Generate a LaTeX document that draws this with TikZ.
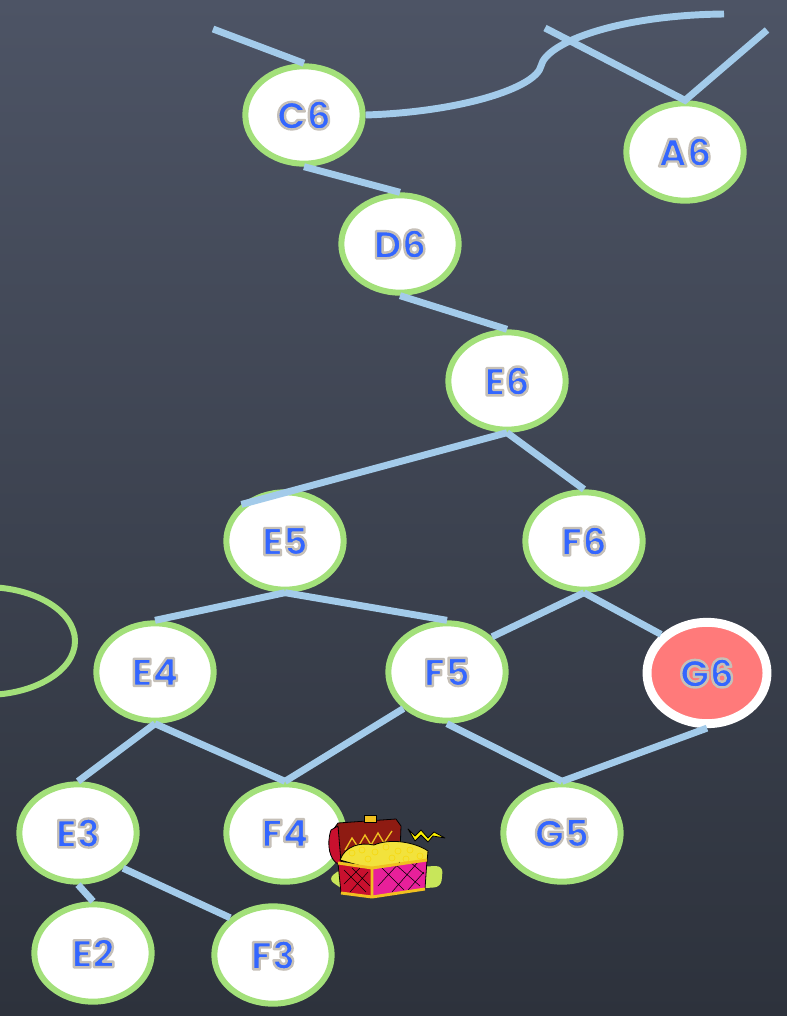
\documentclass[tikz,border=0pt]{standalone}
\usepackage{fontspec}
\setmainfont{Poppins}
\usetikzlibrary{shapes.geometric}
\definecolor{slateT}{HTML}{4D5465}
\definecolor{slateB}{HTML}{2D323C}
\definecolor{ring}{HTML}{A3E07A}
\definecolor{wire}{HTML}{A3CBEA}
\definecolor{ink}{HTML}{3366FF}
\definecolor{goal}{HTML}{FF7A7A}
\definecolor{lidc}{HTML}{8E1B12}
\definecolor{boxl}{HTML}{C8102E}
\definecolor{boxr}{HTML}{E8209A}
\definecolor{gold}{HTML}{F2E23C}
\definecolor{trim}{HTML}{F0C020}
\definecolor{grass}{HTML}{C8E65A}
% blue letters with a grey rim (stroked and filled)
\newcommand{\lbl}[1]{\textcolor{ink}{\special{pdf:literal direct 2 Tr 1.8 w 1 j 0.776 0.753 0.722 RG}#1\special{pdf:literal direct 0 Tr}}}
\tikzset{
  st/.style={ellipse, draw=ring, fill=white, line width=4.5pt, minimum width=88pt,
    minimum height=73pt, inner sep=0pt, font=\fontsize{29}{29}\selectfont\bfseries},
  goalst/.style={st, draw=white, fill=goal, line width=6.7pt, minimum width=90pt,
    minimum height=76pt},
  edg/.style={draw=wire, line width=5.2pt},
  outl/.style={draw=black, line width=0.6pt, line join=round},
}
% open chest full of coins
\newcommand{\treasure}{%
  \fill[grass, rounded corners=5] (328,879) -- (342,868) -- (443,866) -- (441,887) -- (348,893) -- cycle;
  \filldraw[outl, fill=lidc] (333,830) -- (338,823) -- (396,819) -- (401,826) -- (400,854) -- (341,862) -- cycle;
  \draw[trim, line width=1pt] (345,850) -- (352,838) -- (358,847) -- (365,835) -- (371,845) -- (378,833) -- (384,843) -- (392,831);
  \filldraw[outl, fill=boxl] (331,830) .. controls (326,845) and (330,860) .. (338,864) -- (341,862) -- (338,826) -- cycle;
  \filldraw[outl, fill=trim] (364,815) rectangle (376,822);
  \filldraw[outl, fill=gold] (340,860) .. controls (345,846) and (360,842) .. (374,845)
    .. controls (390,838) and (415,842) .. (428,851) -- (427,862) -- (372,869) -- cycle;
  \foreach \cx/\cy in {352/853, 362/850, 375/852, 386/847, 398/851, 410/850, 420/856, 368/859, 392/858, 406/859}
    \draw[trim!60!yellow, line width=0.5pt] (\cx,\cy) circle [radius=3];
  \filldraw[outl, fill=boxl] (338,863) -- (372,868) -- (372,897) -- (341,893) -- cycle;
  \filldraw[outl, fill=boxr] (372,868) -- (427,860) -- (425,889) -- (372,897) -- cycle;
  \draw[black, line width=0.4pt] (344,870) -- (366,892) (352,868) -- (370,886) (344,884) -- (360,868) (350,892) -- (368,872)
    (380,866) -- (404,890) (395,864) -- (420,886) (410,862) -- (424,874) (378,886) -- (400,862) (392,892) -- (418,862) (408,890) -- (424,872);
  \draw[outl, trim, line width=2.2pt] (338,863) -- (372,868) -- (427,860) (372,868) -- (372,897) (341,893) -- (372,897) -- (425,889);
  \filldraw[outl, fill=yellow] (408,829) -- (415,836) -- (421,830) -- (428,838) -- (434,832) -- (445,838) -- (433,836) -- (428,842) -- (421,835) -- (415,841) -- cycle;
}

\begin{document}
\begin{tikzpicture}[x=0.75pt, y=-0.75pt]
  \useasboundingbox (0,0) rectangle (787,1016);
  \shade[top color=slateT, bottom color=slateB] (0,0) rectangle (787,1016);
  % part of a ring cut by the left edge
  \draw[ring, line width=4.5pt] (-15,641) ellipse [x radius=90, y radius=54];
  % states
  \node[st] (C6) at (304,115) {\lbl{C6}};
  \node[st] (A6) at (685,152) {\lbl{A6}};
  \node[st] (D6) at (400,244) {\lbl{D6}};
  \node[st] (E6) at (507,381) {\lbl{E6}};
  \node[st] (E5) at (285,541) {\lbl{E5}};
  \node[st] (F6) at (584,541) {\lbl{F6}};
  \node[st] (E4) at (155,672) {\lbl{E4}};
  \node[st] (F5) at (447,672) {\lbl{F5}};
  \node[goalst] (G6) at (707,673) {\lbl{G6}};
  \node[st] (E3) at (78,833) {\lbl{E3}};
  \node[st] (F4) at (285,833) {\lbl{F4}};
  \node[st] (G5) at (562,833) {\lbl{G5}};
  \node[st] (E2) at (93,953) {\lbl{E2}};
  \node[st] (F3) at (273,955) {\lbl{F3}};
  % loose ends
  \coordinate (c6tail) at (213,29);
  \coordinate (bend) at (541,66);
  \coordinate (arcend) at (724,14);
  \coordinate (a6left) at (545,28);
  \coordinate (a6right) at (767,30);
  % moves
  \draw[edg] (C6.north) -- (c6tail);
  \draw[edg] (C6.east) .. controls (460,112) and (536,88) .. (bend)
    .. controls (546,42) and (620,15) .. (arcend);
  \draw[edg] (a6left) -- (A6.north) -- (a6right);
  \draw[edg] (C6.south) -- (D6.north);
  \draw[edg] (D6.south) -- (E6.north);
  \draw[edg] (E6.south) -- (E5.140);
  \draw[edg] (E6.south) -- (F6.north);
  \draw[edg] (E5.south) -- (E4.north);
  \draw[edg] (E5.south) -- (F5.north);
  \draw[edg] (F6.south) -- (F5.38);
  \draw[edg] (F6.south) -- (G6.140);
  \draw[edg] (E4.south) -- (E3.north);
  \draw[edg] (E4.south) -- (F4.north);
  \draw[edg] (F5.220) -- (F4.north);
  \draw[edg] (F5.south) -- (G5.north);
  \draw[edg] (G6.south) -- (G5.north);
  \draw[edg] (E3.south) -- (E2.north);
  \draw[edg] (E3.322) -- (F3.139);
  \treasure
\end{tikzpicture}
\end{document}
